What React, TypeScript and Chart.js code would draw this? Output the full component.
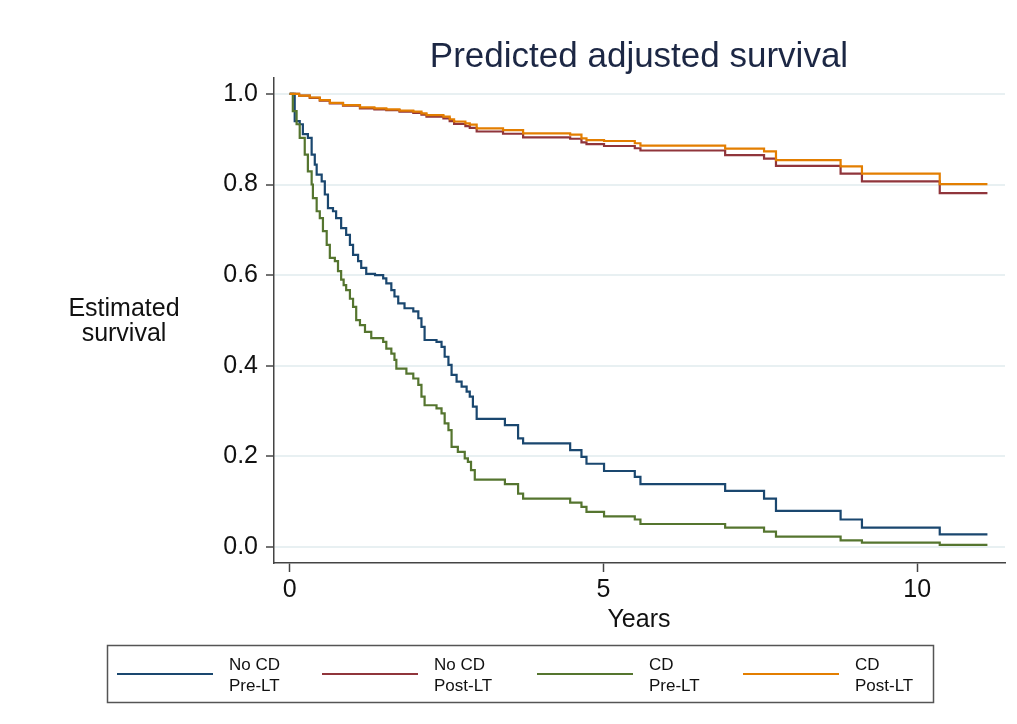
import React, { useEffect, useRef } from "react";
import { Chart, registerables } from "chart.js";

Chart.register(...registerables);

const FONT = "'Liberation Sans', Arial, sans-serif";

const xTickValues = [0, 5, 10];
const yTickValues = [0, 0.2, 0.4, 0.6, 0.8, 1.0];

const seriesLabels = [
  ["No CD", "Pre-LT"],
  ["No CD", "Post-LT"],
  ["CD", "Pre-LT"],
  ["CD", "Post-LT"],
];
const seriesColors = ["#1a476f", "#90353b", "#55752f", "#e37e00"];

// No CD, Pre-LT
const noCdPreTimes = [0, 0.08, 0.16, 0.21, 0.29, 0.35, 0.4, 0.43, 0.51, 0.56, 0.61, 0.69, 0.74, 0.82, 0.9, 0.96, 1.01, 1.09, 1.14, 1.22, 1.36, 1.49, 1.54, 1.62, 1.67, 1.73, 1.83, 1.97, 2.05, 2.1, 2.15, 2.34, 2.42, 2.47, 2.53, 2.58, 2.66, 2.74, 2.82, 2.87, 2.92, 2.98, 3.43, 3.64, 3.72, 4.47, 4.65, 4.73, 5.01, 5.5, 5.59, 6.94, 7.56, 7.75, 8.78, 9.12, 10.36, 11.12];
const noCdPreSurv = [1.0, 0.94, 0.933, 0.911, 0.903, 0.866, 0.844, 0.822, 0.807, 0.778, 0.748, 0.741, 0.726, 0.704, 0.689, 0.667, 0.645, 0.631, 0.616, 0.603, 0.6, 0.593, 0.582, 0.567, 0.553, 0.538, 0.527, 0.52, 0.505, 0.486, 0.457, 0.453, 0.442, 0.42, 0.402, 0.38, 0.365, 0.354, 0.343, 0.332, 0.31, 0.283, 0.269, 0.24, 0.229, 0.214, 0.199, 0.184, 0.168, 0.155, 0.139, 0.124, 0.107, 0.08, 0.061, 0.043, 0.028, 0.028];

// No CD, Post-LT
const noCdPostTimes = [0, 0.15, 0.32, 0.48, 0.64, 0.85, 1.12, 1.35, 1.54, 1.75, 1.97, 2.1, 2.18, 2.45, 2.55, 2.62, 2.8, 2.87, 2.98, 3.4, 3.72, 4.47, 4.65, 4.73, 5.01, 5.5, 5.59, 6.94, 7.56, 7.75, 8.78, 9.12, 10.36, 11.12];
const noCdPostSurv = [1.0, 0.996, 0.991, 0.985, 0.979, 0.974, 0.968, 0.966, 0.964, 0.961, 0.958, 0.954, 0.95, 0.946, 0.94, 0.934, 0.929, 0.925, 0.917, 0.912, 0.904, 0.901, 0.893, 0.889, 0.885, 0.88, 0.875, 0.865, 0.857, 0.841, 0.824, 0.807, 0.781, 0.781];

// CD, Pre-LT
const cdPreTimes = [0, 0.05, 0.11, 0.16, 0.24, 0.29, 0.35, 0.37, 0.43, 0.48, 0.53, 0.59, 0.64, 0.72, 0.77, 0.82, 0.86, 0.9, 0.96, 1.01, 1.06, 1.12, 1.2, 1.3, 1.49, 1.54, 1.62, 1.67, 1.7, 1.86, 1.97, 2.05, 2.1, 2.15, 2.34, 2.42, 2.47, 2.53, 2.58, 2.68, 2.79, 2.84, 2.89, 2.95, 3.43, 3.64, 3.72, 4.47, 4.65, 4.73, 5.01, 5.5, 5.59, 6.94, 7.56, 7.75, 8.78, 9.12, 10.36, 11.12];
const cdPreSurv = [1.0, 0.962, 0.933, 0.903, 0.866, 0.829, 0.8, 0.77, 0.741, 0.726, 0.697, 0.667, 0.638, 0.631, 0.609, 0.59, 0.578, 0.567, 0.548, 0.53, 0.501, 0.49, 0.475, 0.461, 0.453, 0.438, 0.427, 0.413, 0.394, 0.383, 0.372, 0.358, 0.332, 0.313, 0.306, 0.295, 0.273, 0.258, 0.221, 0.21, 0.196, 0.188, 0.17, 0.149, 0.139, 0.118, 0.107, 0.098, 0.089, 0.078, 0.068, 0.061, 0.051, 0.043, 0.034, 0.023, 0.015, 0.01, 0.005, 0.005];

// CD, Post-LT
const cdPostTimes = [0, 0.15, 0.32, 0.48, 0.64, 0.85, 1.12, 1.35, 1.54, 1.75, 1.97, 2.1, 2.18, 2.45, 2.55, 2.62, 2.8, 2.87, 2.98, 3.4, 3.72, 4.47, 4.65, 4.73, 5.01, 5.5, 5.59, 6.94, 7.56, 7.75, 8.78, 9.12, 10.36, 11.12];
const cdPostSurv = [1.0, 0.996, 0.992, 0.986, 0.98, 0.975, 0.97, 0.968, 0.966, 0.963, 0.961, 0.957, 0.953, 0.95, 0.944, 0.939, 0.935, 0.932, 0.924, 0.92, 0.913, 0.91, 0.902, 0.898, 0.896, 0.891, 0.886, 0.879, 0.873, 0.854, 0.84, 0.824, 0.801, 0.801];

const seriesTimes = [noCdPreTimes, noCdPostTimes, cdPreTimes, cdPostTimes];
const seriesSurv = [noCdPreSurv, noCdPostSurv, cdPreSurv, cdPostSurv];
const drawOrder = [3, 2, 1, 0];

const textPlugin = {
  id: "stataText",
  afterDraw(chart: any) {
    const ctx = chart.ctx;
    ctx.save();
    // title
    ctx.fillStyle = "#1c2744";
    ctx.font = `35px ${FONT}`;
    ctx.textAlign = "center";
    ctx.textBaseline = "alphabetic";
    ctx.fillText("Predicted adjusted survival", 639, 67);
    // y title
    ctx.fillStyle = "#111";
    ctx.font = `25px ${FONT}`;
    ctx.fillText("Estimated", 124, 316);
    ctx.fillText("survival", 124, 341);
    // x title
    ctx.fillText("Years", 639, 627);
    // legend box
    ctx.strokeStyle = "#555";
    ctx.lineWidth = 1.5;
    ctx.strokeRect(107.5, 645.5, 826, 57);
    const lineX = [117, 322, 537, 743];
    ctx.font = `17px ${FONT}`;
    ctx.textAlign = "left";
    for (let i = 0; i < 4; i++) {
      ctx.strokeStyle = seriesColors[i];
      ctx.lineWidth = 2;
      ctx.beginPath();
      ctx.moveTo(lineX[i], 674);
      ctx.lineTo(lineX[i] + 96, 674);
      ctx.stroke();
      ctx.fillStyle = "#111";
      ctx.fillText(seriesLabels[i][0], lineX[i] + 112, 670);
      ctx.fillText(seriesLabels[i][1], lineX[i] + 112, 691);
    }
    ctx.restore();
  },
};

export default function App() {
  const ref = useRef<HTMLCanvasElement>(null);
  useEffect(() => {
    document.body.style.margin = "0";
    const datasets = seriesTimes.map((times, i) => ({
      label: seriesLabels[i].join(" "),
      data: times.map((t, j) => ({ x: t, y: seriesSurv[i][j] })),
      borderColor: seriesColors[i],
      backgroundColor: seriesColors[i],
      borderWidth: 2.2,
      pointRadius: 0,
      stepped: true,
      fill: false,
      order: drawOrder[i],
    }));
    const chart = new Chart(ref.current as HTMLCanvasElement, {
      type: "line",
      data: { datasets } as any,
      options: {
        animation: false,
        responsive: false,
        devicePixelRatio: 1,
        layout: { padding: { left: 0, top: 78, right: 12, bottom: 121 } },
        plugins: {
          legend: { display: false },
          tooltip: { enabled: false },
          title: { display: false },
        },
        scales: {
          x: {
            type: "linear",
            min: -0.25,
            max: 11.4,
            afterBuildTicks: (s: any) => {
              s.ticks = xTickValues.map((v) => ({ value: v }));
            },
            afterFit: (s: any) => {
              s.height = 40;
            },
            grid: {
              drawOnChartArea: false,
              drawTicks: true,
              tickLength: 9,
              tickColor: "#444",
              tickWidth: 1.5,
            },
            border: { display: true, color: "#444", width: 1.5 },
            ticks: {
              autoSkip: false,
              maxRotation: 0,
              padding: 3,
              color: "#111",
              font: { family: FONT, size: 25 },
              callback: (v: any) => String(v),
            },
          },
          y: {
            type: "linear",
            min: -0.035,
            max: 1.035,
            afterBuildTicks: (s: any) => {
              s.ticks = yTickValues.map((v) => ({ value: v }));
            },
            afterFit: (s: any) => {
              s.width = 274;
            },
            grid: {
              color: "#e8f0f2",
              lineWidth: 2,
              drawTicks: true,
              tickLength: 8,
              tickColor: "#444",
              tickWidth: 1.5,
            },
            border: { display: true, color: "#444", width: 1.5 },
            ticks: {
              autoSkip: false,
              padding: 8,
              color: "#111",
              font: { family: FONT, size: 25 },
              callback: (v: any) => Number(v).toFixed(1),
            },
          },
        },
      } as any,
      plugins: [textPlugin],
    });
    return () => chart.destroy();
  }, []);
  return (
    <div style={{ position: "absolute", left: 0, top: 0, width: 1017, height: 724, background: "#fff" }}>
      <canvas ref={ref} width={1017} height={724} style={{ width: 1017, height: 724 }} />
    </div>
  );
}
